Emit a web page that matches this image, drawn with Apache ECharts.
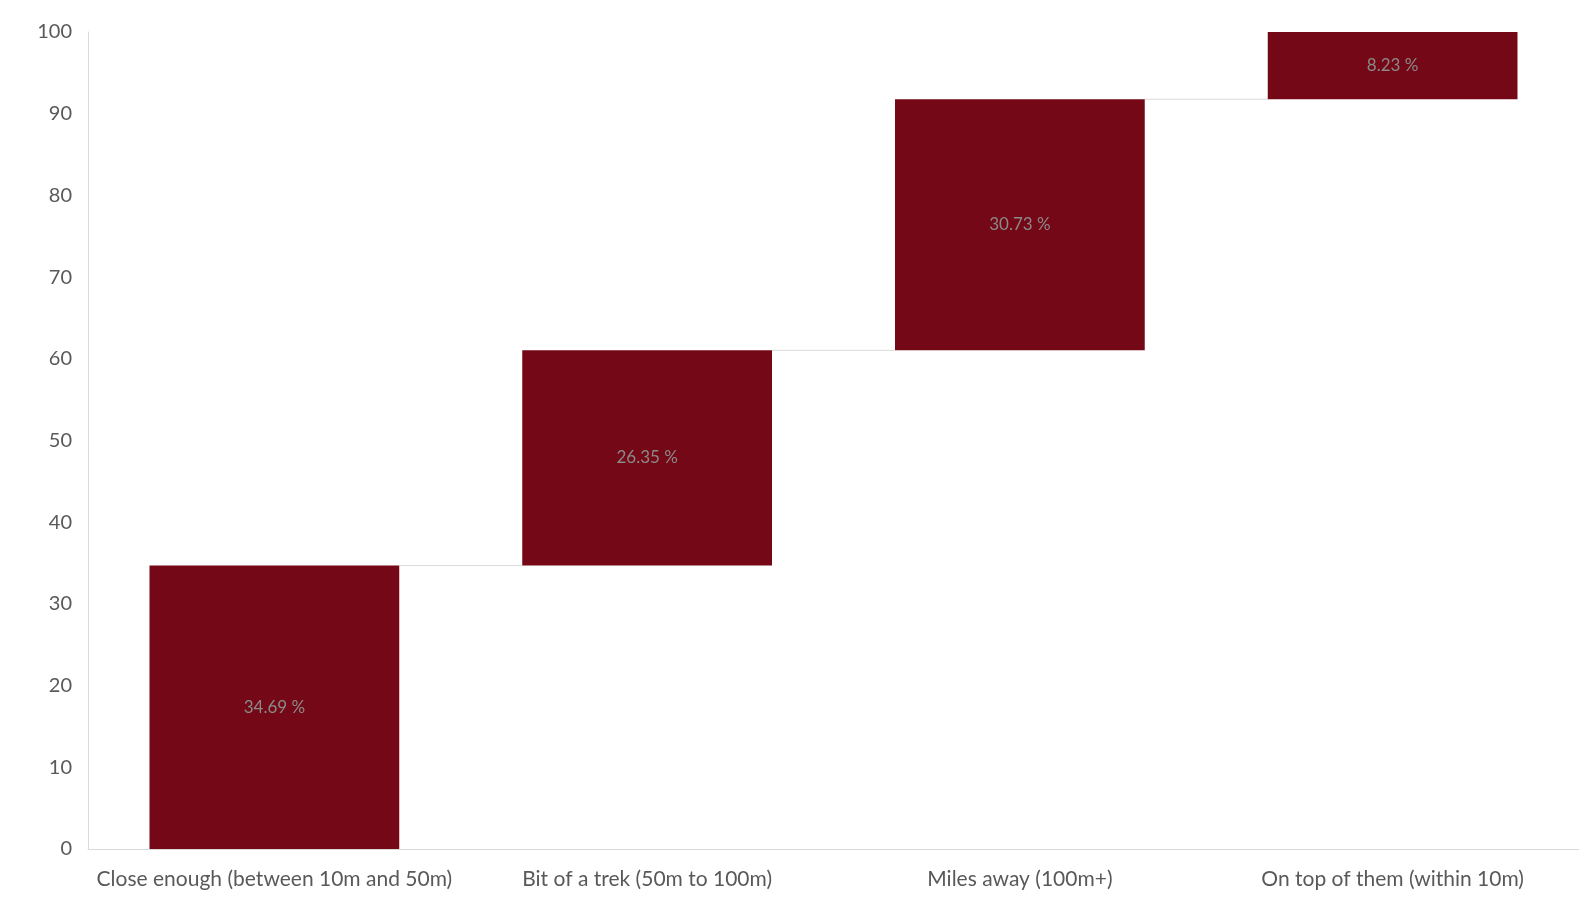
<!DOCTYPE html>
<html><head><meta charset="utf-8">
<script src="https://cdn.jsdelivr.net/npm/echarts@6/dist/echarts.min.js"></script>
<style>html,body{margin:0;padding:0;background:#fff}#c{width:1579px;height:917px}</style>
</head><body><div id="c"></div>
<script>
const categories = ['Close enough (between 10m and 50m)', 'Bit of a trek (50m to 100m)', 'Miles away (100m+)', 'On top of them (within 10m)'];
const values = [34.69, 26.35, 30.73, 8.23];
const yTicks = [0, 10, 20, 30, 40, 50, 60, 70, 80, 90, 100];

const bases = [];
let acc = 0;
values.forEach(v => { bases.push(+acc.toFixed(2)); acc += v; });
const tops = values.map((v, i) => +(bases[i] + v).toFixed(2));
const connectorData = tops.slice(0, -1).map((t, i) => [i, t]);

const chart = echarts.init(document.getElementById('c'));
chart.setOption({
  animation: false,
  grid: { left: 88, right: -6, top: 32, bottom: 68 },
  xAxis: {
    type: 'category', data: categories,
    axisLine: { lineStyle: { color: '#d9d9d9' } },
    axisTick: { show: false },
    axisLabel: { interval: 0, color: '#595959', fontSize: 21, fontFamily: 'Lato', margin: 20 }
  },
  yAxis: {
    type: 'value', min: yTicks[0], max: yTicks[yTicks.length - 1], interval: 10,
    axisLine: { show: true, lineStyle: { color: '#d9d9d9' } },
    axisTick: { show: false },
    splitLine: { show: false },
    axisLabel: { color: '#595959', fontSize: 20, fontFamily: 'Lato', margin: 16 }
  },
  series: [
    { type: 'bar', stack: 'w', data: bases, itemStyle: { color: 'transparent' }, barCategoryGap: '33%', silent: true },
    { type: 'bar', stack: 'w', data: values, itemStyle: { color: '#750816' },
      label: { show: true, position: 'inside', formatter: p => p.value.toFixed(2) + ' %', color: '#8a8a8a', fontSize: 17, fontFamily: 'Lato' } },
    { type: 'custom', data: connectorData, z: 1,
      renderItem: (params, api) => {
        const i = api.value(0), v = api.value(1);
        const bw = api.size([1, 0])[0] * 0.67 / 2;
        const p1 = api.coord([i, v]);
        const p2 = api.coord([i + 1, v]);
        return { type: 'line', shape: { x1: p1[0] + bw, y1: p1[1], x2: p2[0] - bw, y2: p2[1] },
          style: { stroke: '#d9d9d9', lineWidth: 1 } };
      } }
  ]
});
</script></body></html>
